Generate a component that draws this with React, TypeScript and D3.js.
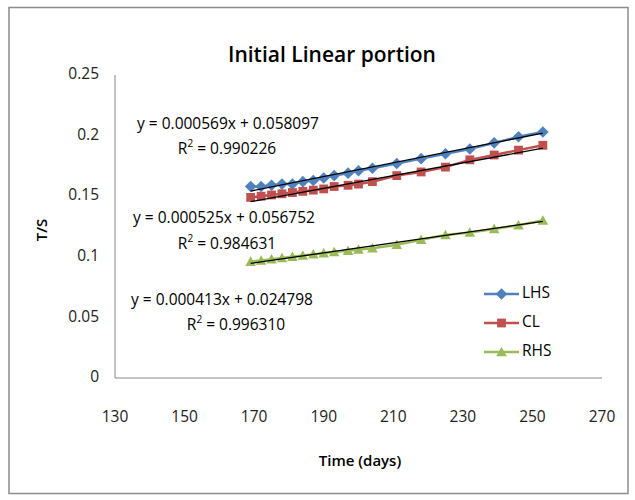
import React from 'react';
import * as d3 from 'd3';

// days and T/S readings for the three positions
const days = [169, 172, 175, 178, 181, 184, 187, 190, 193, 197, 200, 204, 211, 218, 225, 232, 239, 246, 253];
const lhs = [0.158, 0.158, 0.159, 0.160, 0.160, 0.162, 0.163, 0.165, 0.167, 0.169, 0.171, 0.173, 0.177, 0.181, 0.185, 0.189, 0.194, 0.199, 0.203];
const cl = [0.149, 0.150, 0.151, 0.152, 0.153, 0.154, 0.155, 0.156, 0.158, 0.159, 0.160, 0.162, 0.167, 0.170, 0.174, 0.180, 0.184, 0.188, 0.192];
const rhs = [0.096, 0.097, 0.098, 0.099, 0.100, 0.101, 0.102, 0.103, 0.104, 0.105, 0.106, 0.107, 0.110, 0.114, 0.118, 0.120, 0.123, 0.126, 0.130];

const xTicks = [130, 150, 170, 190, 210, 230, 250, 270];
const yTicks = [0, 0.05, 0.1, 0.15, 0.2, 0.25];

// fitted trendlines (slope, intercept, r2)
const fits = [
  { slope: 0.000569, intercept: 0.058097, r2: '0.990226' },
  { slope: 0.000525, intercept: 0.056752, r2: '0.984631' },
  { slope: 0.000413, intercept: 0.024798, r2: '0.996310' },
];

const seriesNames = ['LHS', 'CL', 'RHS'];
const seriesValues = [lhs, cl, rhs];
const colors = ['#4F81BD', '#C0504D', '#9BBB59'];

const FONT = '"Open Sans", sans-serif';

const Marker: React.FC<{ kind: number; x: number; y: number; color: string }> = ({ kind, x, y, color }) => {
  if (kind === 0) {
    const s = 5.8;
    return <path d={`M${x},${y - s}L${x + s},${y}L${x},${y + s}L${x - s},${y}Z`} fill={color} />;
  }
  if (kind === 1) {
    const s = 4.4;
    return <rect x={x - s} y={y - s} width={2 * s} height={2 * s} fill={color} />;
  }
  const s = 5.3;
  return <path d={`M${x},${y - s}L${x + s},${y + s * 0.8}L${x - s},${y + s * 0.8}Z`} fill={color} />;
};

const App: React.FC = () => {
  const x = d3.scaleLinear().domain([130, 270]).range([115, 602]);
  const y = d3.scaleLinear().domain([0, 0.25]).range([378, 75]);
  const line = d3.line<[number, number]>().x(d => x(d[0])).y(d => y(d[1]));

  const eqPos = [
    { x: 228, y: 125, rx: 227, ry: 150 },
    { x: 224, y: 219, rx: 227, ry: 245 },
    { x: 222, y: 301, rx: 236, ry: 326 },
  ];

  return (
    <svg width={635} height={500} style={{ position: 'absolute', left: 0, top: 0, fontFamily: FONT }}>
      <rect x={0} y={0} width={635} height={500} fill="#fff" />
      <rect x={9} y={7.5} width={619} height={486} fill="none" stroke="#8c8c8c" strokeWidth={1.5} />

      <text x={332} y={56} textAnchor="middle" dominantBaseline="middle" fontSize={21} fontWeight={600} fill="#000">
        Initial Linear portion
      </text>

      {/* axes */}
      <line x1={x(130)} x2={x(130)} y1={y(0.25)} y2={y(0)} stroke="#868686" strokeWidth={1} />
      <line x1={x(130)} x2={x(270)} y1={y(0)} y2={y(0)} stroke="#868686" strokeWidth={1} />
      {yTicks.map(t => (
        <text key={t} x={99} y={y(t)} textAnchor="end" dominantBaseline="middle" fontSize={15.5} fill="#222">
          {t === 0 ? '0' : String(t)}
        </text>
      ))}
      {xTicks.map(t => (
        <text key={t} x={x(t)} y={418} textAnchor="middle" dominantBaseline="middle" fontSize={15.5} fill="#222">
          {t}
        </text>
      ))}
      <text x={360} y={462} textAnchor="middle" dominantBaseline="middle" fontSize={15} fontWeight={600}>
        Time (days)
      </text>
      <text transform="translate(43,230) rotate(-90)" textAnchor="middle" dominantBaseline="middle" fontSize={15} fontWeight={600}>
        T/S
      </text>

      {/* series */}
      {seriesValues.map((vals, i) => {
        const pts = days.map((d, j) => [d, vals[j]] as [number, number]);
        return (
          <g key={seriesNames[i]}>
            <path d={line(pts) ?? ''} fill="none" stroke={colors[i]} strokeWidth={2.5} />
            {pts.map((p, j) => (
              <Marker key={j} kind={i} x={x(p[0])} y={y(p[1])} color={colors[i]} />
            ))}
          </g>
        );
      })}

      {/* trendlines */}
      {fits.map((f, i) => {
        const d0 = days[0];
        const d1 = days[days.length - 1];
        const pts: [number, number][] = [[d0, f.slope * d0 + f.intercept], [d1, f.slope * d1 + f.intercept]];
        return <path key={i} d={line(pts) ?? ''} stroke="#000" strokeWidth={1.3} fill="none" />;
      })}

      {/* equations */}
      {fits.map((f, i) => (
        <g key={i} fontSize={15.5} fill="#000">
          <text x={eqPos[i].x} y={eqPos[i].y} textAnchor="middle" dominantBaseline="middle">
            {`y = ${f.slope.toFixed(6)}x + ${f.intercept.toFixed(6)}`}
          </text>
          <text x={eqPos[i].rx} y={eqPos[i].ry} textAnchor="middle" dominantBaseline="middle">
            R<tspan fontSize={10} dy={-6}>2</tspan><tspan dy={6}>{` = ${f.r2}`}</tspan>
          </text>
        </g>
      ))}

      {/* legend */}
      {seriesNames.map((n, i) => {
        const ly = 294 + i * 29;
        return (
          <g key={n}>
            <line x1={484} x2={519} y1={ly} y2={ly} stroke={colors[i]} strokeWidth={2.5} />
            <Marker kind={i} x={501.5} y={ly} color={colors[i]} />
            <text x={522} y={ly} dominantBaseline="middle" fontSize={15.5}>
              {n}
            </text>
          </g>
        );
      })}
    </svg>
  );
};

export default App;
